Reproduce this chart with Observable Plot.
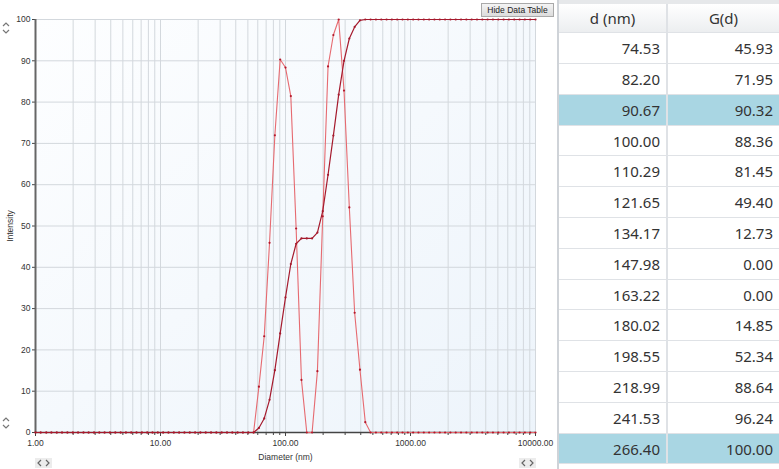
<!DOCTYPE html>
<html><head><meta charset="utf-8">
<script src="https://cdn.jsdelivr.net/npm/d3@7"></script>
<script src="https://cdn.jsdelivr.net/npm/@observablehq/plot@0.6"></script>
<style>
html,body{margin:0;padding:0;background:#fff;}
#wrap{position:relative;width:779px;height:469px;overflow:hidden;font-family:"Liberation Sans",Arial,sans-serif;}
#chart{position:absolute;left:0;top:0;}
#btn{position:absolute;left:481px;top:3px;width:71px;height:12px;border:1px solid #a9a9a9;background:linear-gradient(#f4f4f4,#dcdcdc);font:8.5px "Liberation Sans",Arial,sans-serif;color:#222;text-align:center;line-height:12px;}
.ico{position:absolute;}
#table{position:absolute;left:557px;top:0;width:222px;height:469px;border-left:2px solid #cfd3d8;box-sizing:border-box;background:#fff;font-family:"Noto Sans",sans-serif;color:#333;}
#strip{height:4px;background:#e6e8ea;}
.row{display:flex;height:30.8px;box-sizing:border-box;border-bottom:1px solid #dfe2e6;font-size:15px;line-height:30px;}
.row .c1{width:109px;box-sizing:border-box;border-right:2px solid #dfe2e6;text-align:right;padding-right:6px;}
.row .c2{flex:1;text-align:right;padding-right:6px;}
.hdr{height:29.3px;background:linear-gradient(#ffffff,#eceef0);line-height:28px;}
.hdr .c1,.hdr .c2{text-align:center;padding-right:0;}
.hl{background:#a9d6e3;}
</style></head><body>
<div id="wrap">
<div id="chart"></div>
<div id="btn">Hide Data Table</div>
<svg class="ico" style="left:1px;top:21px" width="10" height="14"><polyline points="2,5 5,2 8,5" fill="none" stroke="#777" stroke-width="1.2"/><polyline points="2,9 5,12 8,9" fill="none" stroke="#777" stroke-width="1.2"/></svg>
<svg class="ico" style="left:1px;top:416px" width="10" height="14"><polyline points="2,5 5,2 8,5" fill="none" stroke="#777" stroke-width="1.2"/><polyline points="2,9 5,12 8,9" fill="none" stroke="#777" stroke-width="1.2"/></svg>
<svg class="ico" style="left:35px;top:458px" width="17" height="10"><rect width="17" height="10" fill="#ececec"/><polyline points="6,2 3,5 6,8" fill="none" stroke="#666" stroke-width="1.2"/><polyline points="11,2 14,5 11,8" fill="none" stroke="#666" stroke-width="1.2"/></svg>
<svg class="ico" style="left:519px;top:458px" width="17" height="10"><rect width="17" height="10" fill="#ececec"/><polyline points="6,2 3,5 6,8" fill="none" stroke="#666" stroke-width="1.2"/><polyline points="11,2 14,5 11,8" fill="none" stroke="#666" stroke-width="1.2"/></svg>
<div id="table"><div id="strip"></div></div>
</div>
<script>
const diameters = [1.00,1.10,1.22,1.34,1.48,1.63,1.80,1.99,2.19,2.42,2.66,2.94,3.24,3.57,3.94,4.35,4.80,5.29,5.83,6.43,
7.10,7.83,8.63,9.52,10.50,11.58,12.78,14.09,15.54,17.14,18.91,20.85,23.00,25.37,27.98,30.86,34.04,37.54,41.40,45.67,
50.37,55.55,61.27,67.58,74.53,82.20,90.67,100.00,110.29,121.65,134.17,147.98,163.22,180.02,198.55,218.99,241.53,266.40,293.82,324.07,
357.43,394.22,434.81,479.57,528.93,583.38,643.44,709.68,782.73,863.31,952.18,1050.21,1158.32,1277.57,1409.10,1554.16,1714.16,1890.63,2085.27,2299.94,
2536.71,2797.86,3085.89,3403.58,3753.98,4140.44,4566.68,5036.82,5555.36,6127.28,6758.06,7453.80,8220.35,9067.50,10000.00];
const intensity = [0,0,0,0,0,0,0,0,0,0,0,0,0,0,0,0,0,0,0,0,
0,0,0,0,0,0,0,0,0,0,0,0,0,0,0,0,0,0,0,0,
0,0,11.1,23.3,45.93,71.95,90.32,88.36,81.45,49.40,12.73,0,0,14.85,52.34,88.64,96.24,100.00,82.8,54.5,
29.0,15.2,2.5,0,0,0,0,0,0,0,0,0,0,0,0,0,0,0,0,0,
0,0,0,0,0,0,0,0,0,0,0,0,0,0,0];
const cumulative = [0,0,0,0,0,0,0,0,0,0,0,0,0,0,0,0,0,0,0,0,
0,0,0,0,0,0,0,0,0,0,0,0,0,0,0,0,0,0,0,0,
0,0,1.1,3.4,7.9,15.1,24.0,32.7,40.8,45.7,47.0,47.0,47.0,48.4,53.6,62.4,71.9,81.8,90.0,95.4,
98.2,99.8,100,100,100,100,100,100,100,100,100,100,100,100,100,100,100,100,100,100,
100,100,100,100,100,100,100,100,100,100,100,100,100,100,100];
const yTicks = [0,10,20,30,40,50,60,70,80,90,100];
const xTicks = [1,10,100,1000,10000];
const xTickLabels = ["1.00","10.00","100.00","1000.00","10000.00"];
const tableD = ["74.53","82.20","90.67","100.00","110.29","121.65","134.17","147.98","163.22","180.02","198.55","218.99","241.53","266.40"];
const tableG = ["45.93","71.95","90.32","88.36","81.45","49.40","12.73","0.00","0.00","14.85","52.34","88.64","96.24","100.00"];
const highlighted = ["90.67","266.40"];

const rows = diameters.map((d,i)=>({d, g:intensity[i], c:cumulative[i]}));
const minor = d3.scaleLog().domain([1,10000]).ticks();

const plot = Plot.plot({
  width:557, height:469, marginLeft:35, marginRight:22, marginTop:19, marginBottom:37,
  style:{fontFamily:"Liberation Sans, Arial, sans-serif", fontSize:"8.5px", color:"#333", background:"transparent", overflow:"visible"},
  x:{type:"log", domain:[1,10000]},
  y:{domain:[0,100]},
  marks:[
    Plot.frame({fill:"url(#plotbg)", stroke:null}),
    Plot.gridX(minor, {stroke:"#d3d8dd", strokeOpacity:1, strokeWidth:1}),
    Plot.gridY(yTicks, {stroke:"#d3d8dd", strokeOpacity:1, strokeWidth:1}),
    Plot.axisX(minor, {tickSize:3, tickFormat:()=>"", label:null, stroke:"#444"}),
    Plot.axisX(xTicks, {tickSize:4, tickPadding:3, tickFormat:d=>xTickLabels[xTicks.indexOf(d)], label:"Diameter (nm)", labelAnchor:"center", labelArrow:"none", labelOffset:27, stroke:"#444"}),
    Plot.axisY(yTicks, {tickSize:3, tickPadding:2, label:"Intensity", labelAnchor:"center", labelArrow:"none", labelOffset:29, stroke:"#444"}),
    Plot.ruleX([1], {stroke:"#666", strokeWidth:2}),
    Plot.ruleY([0], {stroke:"#444", strokeWidth:1.3}),
    Plot.line(rows, {x:"d", y:"g", stroke:"#e66a70", strokeWidth:1.1}),
    Plot.line(rows, {x:"d", y:"c", stroke:"#a51a2d", strokeWidth:1.2}),
    Plot.dot(rows, {x:"d", y:"g", r:1.1, fill:"#b3182b", stroke:null}),
    Plot.dot(rows, {x:"d", y:"c", r:1.1, fill:"#a51a2d", stroke:null})
  ]
});
const defs = document.createElementNS("http://www.w3.org/2000/svg","defs");
defs.innerHTML = '<linearGradient id="plotbg" x1="0" y1="0" x2="1" y2="1"><stop offset="0" stop-color="#fdfeff"/><stop offset="1" stop-color="#edf4fb"/></linearGradient>';
plot.insertBefore(defs, plot.firstChild);
document.getElementById("chart").appendChild(plot);

const table = document.getElementById("table");
const hdr = document.createElement("div");
hdr.className = "row hdr";
hdr.innerHTML = '<div class="c1">d (nm)</div><div class="c2">G(d)</div>';
table.appendChild(hdr);
tableD.forEach((d,i)=>{
  const r = document.createElement("div");
  r.className = "row" + (highlighted.includes(d) ? " hl" : "");
  r.innerHTML = `<div class="c1">${d}</div><div class="c2">${tableG[i]}</div>`;
  table.appendChild(r);
});
</script>
</body></html>
